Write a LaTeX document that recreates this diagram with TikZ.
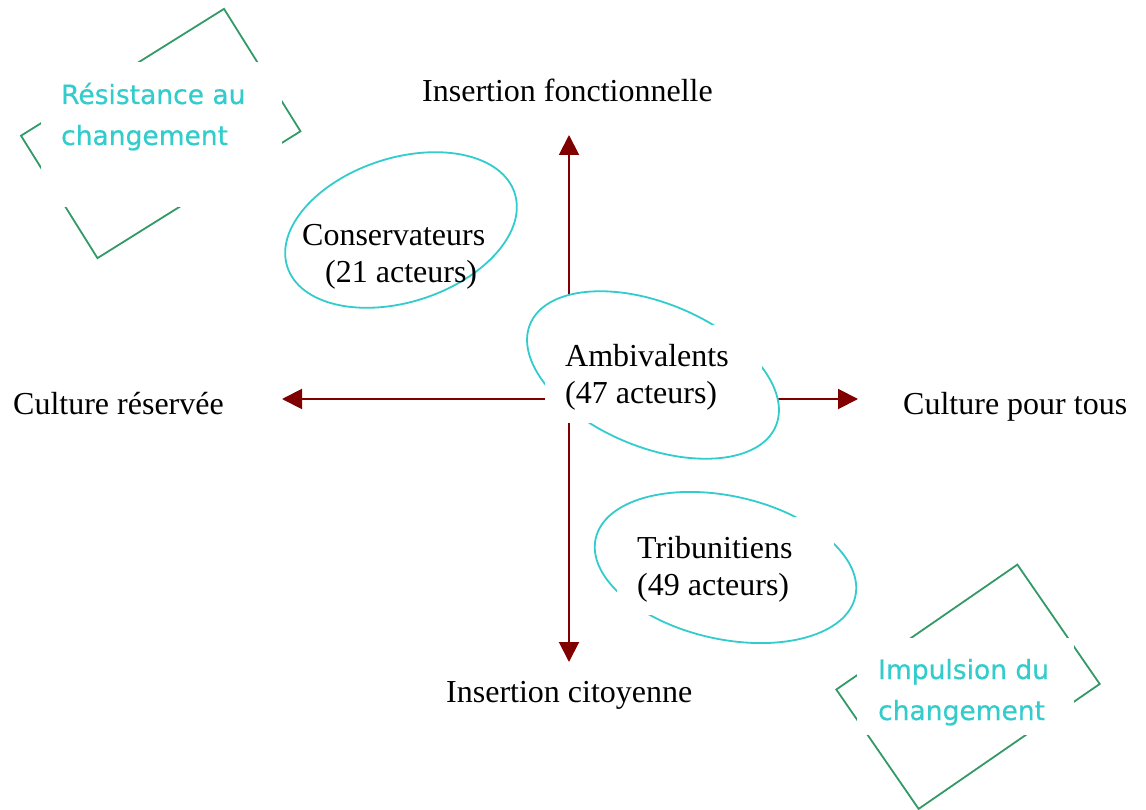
\documentclass[tikz,border=0pt]{standalone}
\usepackage{fontspec}
\setmainfont{Liberation Serif}
\newfontfamily\comicfont[FakeBold=0.5]{DejaVu Sans}
\usetikzlibrary{shapes.geometric,arrows.meta}
\definecolor{turq}{HTML}{33CCCC}
\definecolor{sgreen}{HTML}{339966}
\definecolor{axisred}{HTML}{800000}
\begin{document}
\begin{tikzpicture}[x=1pt,y=-1pt,
  axis/.style={draw=axisred, line width=2pt, -{Triangle[length=20pt,width=20pt]}},
  lbl/.style={font=\fontsize{32}{37}\selectfont, inner sep=0pt, anchor=base west, align=left},
  grp/.style={ellipse, draw=turq, line width=1.8pt, fill=white, inner sep=0pt},
  frame/.style={rectangle, draw=sgreen, line width=1.8pt, inner sep=0pt},
  mask/.style={rectangle, fill=white, inner sep=0pt},
  note/.style={font=\comicfont\fontsize{26.5}{41}\selectfont, text=turq, inner sep=0pt, anchor=base west, align=left}]
\useasboundingbox (0,0) rectangle (1146,810);
% axes
\coordinate (O) at (569,399);
\coordinate (axTop) at (569,135);
\coordinate (axBot) at (569,662);
\coordinate (axLeft) at (282,399);
\coordinate (axRight) at (858,399);
\draw[axis] (O) -- (axTop);
\draw[axis] (O) -- (axBot);
\draw[axis] (O) -- (axLeft);
\draw[axis] (O) -- (axRight);
% axis labels
\node[lbl] (insF) at (422,102) {Insertion fonctionnelle};
\node[lbl] (insC) at (446,702) {Insertion citoyenne};
\node[lbl] (culR) at (13,414) {Culture réservée};
\node[lbl] (culT) at (903,414) {Culture pour tous};
% frames
\node[frame, minimum width=239.4pt, minimum height=144.3pt, rotate=32] (resF) at (160.75,133.5) {};
\node[mask, minimum width=241pt, minimum height=145pt] (resM) at (161.5,134.5) {};
\node[note] (resT) at (61,145) {Résistance au\\changement};
\node[frame, minimum width=220pt, minimum height=145pt, rotate=34.6] (impF) at (968,686.75) {};
\node[mask, minimum width=217pt, minimum height=97pt] (impM) at (965.5,686.5) {};
\node[note] (impT) at (878,720) {Impulsion du\\changement};
% groups
\node[grp, minimum width=239pt, minimum height=144pt, rotate=18] (consE) at (401,230) {};
\node[lbl] (consT) at (302,283) {Conservateurs\\\hspace*{23pt}(21 acteurs)};
\node[grp, minimum width=266pt, minimum height=144pt, rotate=-22.5] (ambE) at (653,375) {};
\node[mask, minimum width=217pt, minimum height=98pt] (ambM) at (653.5,374) {};
\node[lbl] (ambT) at (565,403) {Ambivalents\\(47 acteurs)};
\node[grp, minimum width=266pt, minimum height=143pt, rotate=-12.6] (triE) at (725.5,567.5) {};
\node[mask, minimum width=217pt, minimum height=98pt] (triM) at (725.5,566) {};
\node[lbl] (triT) at (637,595) {Tribunitiens\\(49 acteurs)};
\end{tikzpicture}
\end{document}
